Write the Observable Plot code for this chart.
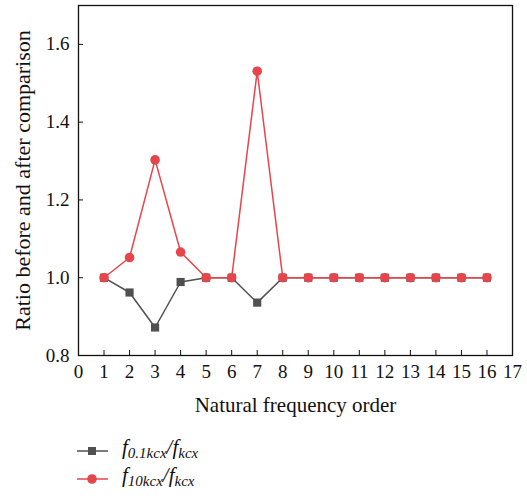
<!DOCTYPE html>
<html>
<head>
<meta charset="utf-8">
<script src="https://cdn.jsdelivr.net/npm/d3@7"></script>
<script src="https://cdn.jsdelivr.net/npm/@observablehq/plot@0.6"></script>
<style>
  body { margin: 0; background: #fff; font-family: "Liberation Serif", serif; }
  #chart { width: 527px; }
  .legend { position: relative; height: 78px; font-family: "Liberation Serif", serif; }
  .legend .row { position: absolute; left: 0; height: 20px; }
  .legend svg { position: absolute; left: 76px; top: 0; }
  .legend .lbl { position: absolute; left: 122px; top: -6px; font-size: 21px; font-style: italic; white-space: nowrap; color: #111; }
  .legend sub { font-size: 15px; vertical-align: -4px; }
</style>
</head>
<body>
<div id="chart"></div>
<script>
const order = [1,2,3,4,5,6,7,8,9,10,11,12,13,14,15,16];
const ratio01 = [1.0,0.962,0.872,0.989,1.0,1.0,0.936,1.0,1.0,1.0,1.0,1.0,1.0,1.0,1.0,1.0];
const ratio10 = [1.0,1.052,1.303,1.066,1.0,1.0,1.531,1.0,1.0,1.0,1.0,1.0,1.0,1.0,1.0,1.0];
const xTicks = d3.range(0, 18);
const yTicks = [0.8, 1.0, 1.2, 1.4, 1.6];
const colorDark = "#505050";
const colorRed = "#e6454b";

const s01 = order.map((o, i) => ({order: o, v: ratio01[i]}));
const s10 = order.map((o, i) => ({order: o, v: ratio10[i]}));

const W = 527, H = 420, mL = 78, mR = 15, mT = 5, mB = 65;
const plot = Plot.plot({
  width: W, height: H,
  marginLeft: mL, marginRight: mR, marginTop: mT, marginBottom: mB,
  style: {fontFamily: "Liberation Serif, serif", fontSize: "19px", color: "#111", background: "#fff"},
  x: {domain: [0, 17]},
  y: {domain: [0.8, 1.7]},
  marks: [
    Plot.axisX({ticks: xTicks, tickSize: 0, tickPadding: 9, tickFormat: d => String(d), fontSize: 19, label: null}),
    Plot.axisX({ticks: [], label: "Natural frequency order", labelAnchor: "center", labelOffset: 56, labelArrow: "none", fontSize: 21}),
    Plot.axisY({ticks: yTicks, tickSize: 0, tickPadding: 9, tickFormat: d3.format(".1f"), fontSize: 19, label: null}),
    Plot.axisY({ticks: [], label: "Ratio before and after comparison", labelAnchor: "center", labelOffset: 64, labelArrow: "none", fontSize: 22}),
    Plot.tickX(xTicks, {x: d => d, insetTop: H - mT - mB - 5, stroke: "#111", strokeWidth: 1}),
    Plot.tickY(yTicks, {y: d => d, insetRight: W - mL - mR - 5, stroke: "#111", strokeWidth: 1}),
    Plot.frame({stroke: "#111", strokeWidth: 1.3}),
    Plot.line(s01, {x: "order", y: "v", stroke: colorDark, strokeWidth: 1.5}),
    Plot.line(s10, {x: "order", y: "v", stroke: colorRed, strokeWidth: 1.5}),
    Plot.dot(s01, {x: "order", y: "v", symbol: "square", r: 4.6, fill: colorDark, stroke: "none"}),
    Plot.dot(s10, {x: "order", y: "v", symbol: "circle", r: 4.8, fill: colorRed, stroke: "none"})
  ]
});
document.getElementById("chart").appendChild(plot);

const legend = document.createElement("div");
legend.className = "legend";
legend.innerHTML = `
  <div class="row" style="top:21px">
    <svg width="34" height="20"><line x1="1" y1="10" x2="32" y2="10" stroke="${colorDark}" stroke-width="1.5"/><rect x="12" y="6" width="8" height="8" fill="${colorDark}"/></svg>
    <span class="lbl">f<sub>0.1kcx</sub>/f<sub>kcx</sub></span>
  </div>
  <div class="row" style="top:49px">
    <svg width="34" height="20"><line x1="1" y1="10" x2="32" y2="10" stroke="${colorRed}" stroke-width="1.5"/><circle cx="16" cy="10" r="4.8" fill="${colorRed}"/></svg>
    <span class="lbl">f<sub>10kcx</sub>/f<sub>kcx</sub></span>
  </div>`;
document.body.appendChild(legend);
</script>
</body>
</html>
